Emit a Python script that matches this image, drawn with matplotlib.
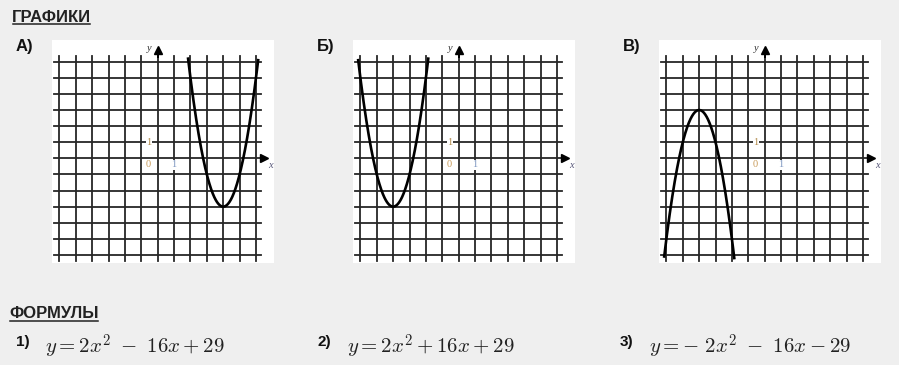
import matplotlib
matplotlib.use("Agg")
import matplotlib.pyplot as plt
import numpy as np

W, H = 899, 365

# данные: подписи графиков и коэффициенты парабол y = a*x^2 + b*x + c
panel_labels = ["А)", "Б)", "В)"]
coef_a = [2, 2, -2]
coef_b = [-16, 16, -16]
coef_c = [29, 29, -29]

formula_nums = ["1)", "2)", "3)"]
formulas = [r"$y = 2x^2\ -\ 16x + 29$",
            r"$y = 2x^2 + 16x + 29$",
            r"$y = -\ 2x^2\ -\ 16x - 29$"]

grid_ticks = np.arange(-6, 7)

plt.rcParams["mathtext.fontset"] = "cm"

fig = plt.figure(figsize=(W / 100, H / 100), dpi=100)
fig.patch.set_facecolor("#efefef")


def px_box(left, top, right, bottom):
    return [left / W, 1 - bottom / H, (right - left) / W, (bottom - top) / H]


panel_left = [52, 353, 659]
gray = "#262626"

for k in range(3):
    ax = fig.add_axes(px_box(panel_left[k], 40, panel_left[k] + 222, 263))
    ax.set_facecolor("white")
    ax.set_xlim(-6.45, 7.1)
    ax.set_ylim(-6.5, 7.35)
    for s in ax.spines.values():
        s.set_visible(False)
    ax.set_xticks([])
    ax.set_yticks([])

    # сетка
    for t in grid_ticks:
        ax.plot([t, t], [-6.35, 6.35], color=gray, lw=1.3, zorder=1)
        ax.plot([-6.32, 6.32], [t, t], color=gray, lw=1.3, zorder=1)
    # оси со стрелками
    ax.plot([0, 0], [6.3, 6.6], color="black", lw=1.4, zorder=2)
    ax.plot(0, 6.7, marker="^", ms=6, color="black", zorder=3)
    ax.plot([6.3, 6.4], [0, 0], color="black", lw=1.4, zorder=2)
    ax.plot(6.5, 0.05, marker=">", ms=6, color="black", zorder=3)
    ax.text(-0.35, 6.85, "y", fontsize=7.5, family="Liberation Serif",
            style="italic", ha="right", va="center", color="#333333")
    ax.text(6.75, -0.45, "x", fontsize=7.5, family="Liberation Serif",
            style="italic", ha="left", va="center", color="#555577")
    lab_box = dict(boxstyle="square,pad=0.05", fc="white", ec="none")
    ax.text(-0.55, 1.0, "1", fontsize=7.5, family="Liberation Serif",
            ha="center", va="center", color="#b08848", bbox=lab_box, zorder=4)
    ax.text(-0.6, -0.4, "0", fontsize=7.5, family="Liberation Serif",
            ha="center", va="center", color="#c89a58", bbox=lab_box, zorder=4)
    ax.text(0.95, -0.4, "1", fontsize=7.5, family="Liberation Serif",
            ha="center", va="center", color="#7d96c0", bbox=lab_box, zorder=4)

    # парабола
    xs = np.linspace(-6.5, 6.5, 800)
    ys = coef_a[k] * xs ** 2 + coef_b[k] * xs + coef_c[k]
    ys = np.where(np.abs(ys) <= 6.3, ys, np.nan)
    ax.plot(xs, ys, color="black", lw=1.9, zorder=5, solid_capstyle="butt")

    fig.text((panel_left[k] - 36) / W, 1 - 47 / H, panel_labels[k],
             fontsize=12, weight="bold", family="Liberation Sans",
             ha="left", va="center", color="#111111")

# заголовки
h1 = fig.text(12 / W, 1 - 17 / H, "ГРАФИКИ", fontsize=12, weight="bold",
              family="Liberation Sans", ha="left", va="center", color="#222222")
h2 = fig.text(9 / W, 1 - 314 / H, "ФОРМУЛЫ", fontsize=12, weight="bold",
              family="Liberation Sans", ha="left", va="center", color="#222222")

formula_left = [16, 318, 620]
for k in range(3):
    fig.text(formula_left[k] / W, 1 - 342 / H, formula_nums[k], fontsize=11,
             weight="bold", family="Liberation Sans", ha="left", va="center",
             color="#111111")
    fig.text((formula_left[k] + 29) / W, 1 - 347 / H, formulas[k], fontsize=15,
             ha="left", va="center", color="#222222")

fig.canvas.draw()
r = fig.canvas.get_renderer()
for h in (h1, h2):
    bb = h.get_window_extent(r)
    y = bb.y0 + 0.5
    fig.add_artist(plt.Line2D([(bb.x0 + 1) / W, (bb.x1 - 1) / W], [y / H, y / H],
                              color="#222222", lw=1.1))

fig.savefig("out.png", dpi=100, facecolor=fig.get_facecolor())
